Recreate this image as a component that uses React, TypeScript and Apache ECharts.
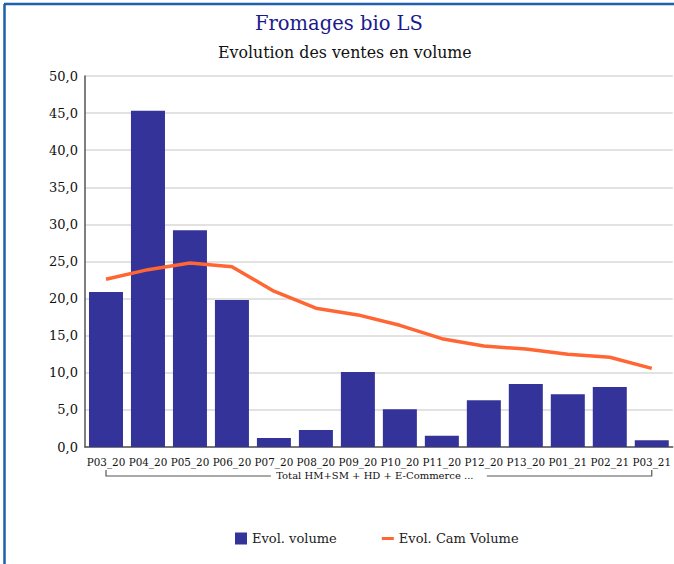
import React, { useEffect, useRef } from "react";
import * as echarts from "echarts";

const categories = ["P03_20", "P04_20", "P05_20", "P06_20", "P07_20", "P08_20", "P09_20", "P10_20", "P11_20", "P12_20", "P13_20", "P01_21", "P02_21", "P03_21"];
const evolVolume = [20.9, 45.3, 29.2, 19.8, 1.2, 2.3, 10.1, 5.1, 1.5, 6.3, 8.5, 7.1, 8.1, 0.9];
const evolCamVolume = [22.6, 23.9, 24.8, 24.3, 21.0, 18.7, 17.8, 16.4, 14.6, 13.6, 13.2, 12.5, 12.1, 10.6];
const groupLabel = "Total HM+SM + HD + E-Commerce ...";
const titleText = "Fromages bio LS";
const subtitleText = "Evolution des ventes en volume";
const seriesNames = ["Evol. volume", "Evol. Cam Volume"];

const FONT = "DejaVu Serif";

export default function App() {
  const ref = useRef<HTMLDivElement>(null);
  useEffect(() => {
    document.body.style.margin = "0";
    const chart = echarts.init(ref.current!, null, { renderer: "svg" });
    chart.setOption({
      animation: false,
      backgroundColor: "#ffffff",
      title: [
        { text: titleText, left: 250, top: 8, textStyle: { fontFamily: FONT, fontSize: 19.5, fontWeight: "normal", color: "#1a1a8c" } },
        { text: subtitleText, left: 213, top: 39, textStyle: { fontFamily: FONT, fontSize: 15.8, fontWeight: "normal", color: "#111111" } },
      ],
      legend: {
        bottom: 14,
        left: 230,
        itemGap: 45,
        itemWidth: 12,
        itemHeight: 12,
        textStyle: { fontFamily: FONT, fontSize: 13, color: "#222" },
        data: [
          { name: seriesNames[0], icon: "rect" },
          { name: seriesNames[1], icon: "path://M0,0 L16,0 L16,4 L0,4 Z", itemStyle: { color: "#ff6633" } },
        ],
      },
      grid: { left: 85, top: 76, width: 590, height: 371, containLabel: false },
      xAxis: {
        type: "category",
        data: categories,
        axisLine: { lineStyle: { color: "#555", width: 1.5 } },
        axisTick: { show: false },
        axisLabel: { fontFamily: FONT, fontSize: 10.4, color: "#111", margin: 10, interval: 0 },
      },
      yAxis: {
        type: "value",
        min: 0,
        max: 50,
        interval: 5,
        axisLine: { show: true, lineStyle: { color: "#555", width: 1.5 } },
        axisTick: { show: false },
        splitLine: { lineStyle: { color: "#d9d9d9", width: 1.5 } },
        axisLabel: { fontFamily: FONT, fontSize: 13, color: "#111", margin: 7, formatter: (v: number) => v.toFixed(1).replace(".", ",") },
      },
      series: [
        { name: seriesNames[0], type: "bar", data: evolVolume, barCategoryGap: "19%", itemStyle: { color: "#333399" } },
        { name: seriesNames[1], type: "line", data: evolCamVolume, symbol: "none", lineStyle: { color: "#ff6633", width: 3.5 }, itemStyle: { color: "#ff6633" } },
      ],
    });
    const x0 = chart.convertToPixel({ xAxisIndex: 0 }, categories[0]) as number;
    const x1 = chart.convertToPixel({ xAxisIndex: 0 }, categories[categories.length - 1]) as number;
    const yBase = chart.convertToPixel({ yAxisIndex: 0 }, 0) as number;
    const yb = yBase + 29;
    const mid = (x0 + x1) / 2;
    const lineStyle = { stroke: "#555", lineWidth: 1.2 };
    chart.setOption({
      graphic: [
        { type: "line", shape: { x1: 4.5, y1: 4, x2: 4.5, y2: 564 }, style: { stroke: "#1f5fae", lineWidth: 2.5 } },
        { type: "line", shape: { x1: 4, y1: 4, x2: 674, y2: 4 }, style: { stroke: "#1f5fae", lineWidth: 2.5 } },
        { type: "polyline", shape: { points: [[x0, yb - 6], [x0, yb], [mid - 108, yb]] }, style: lineStyle },
        { type: "polyline", shape: { points: [[mid + 108, yb], [x1, yb], [x1, yb - 6]] }, style: lineStyle },
        { type: "text", x: mid - 4, y: yb - 1, style: { text: groupLabel, fontFamily: FONT, fontSize: 10, fill: "#111", align: "center", verticalAlign: "middle" } },
      ],
    });
    return () => chart.dispose();
  }, []);
  return <div ref={ref} style={{ width: 674, height: 564 }} />;
}
